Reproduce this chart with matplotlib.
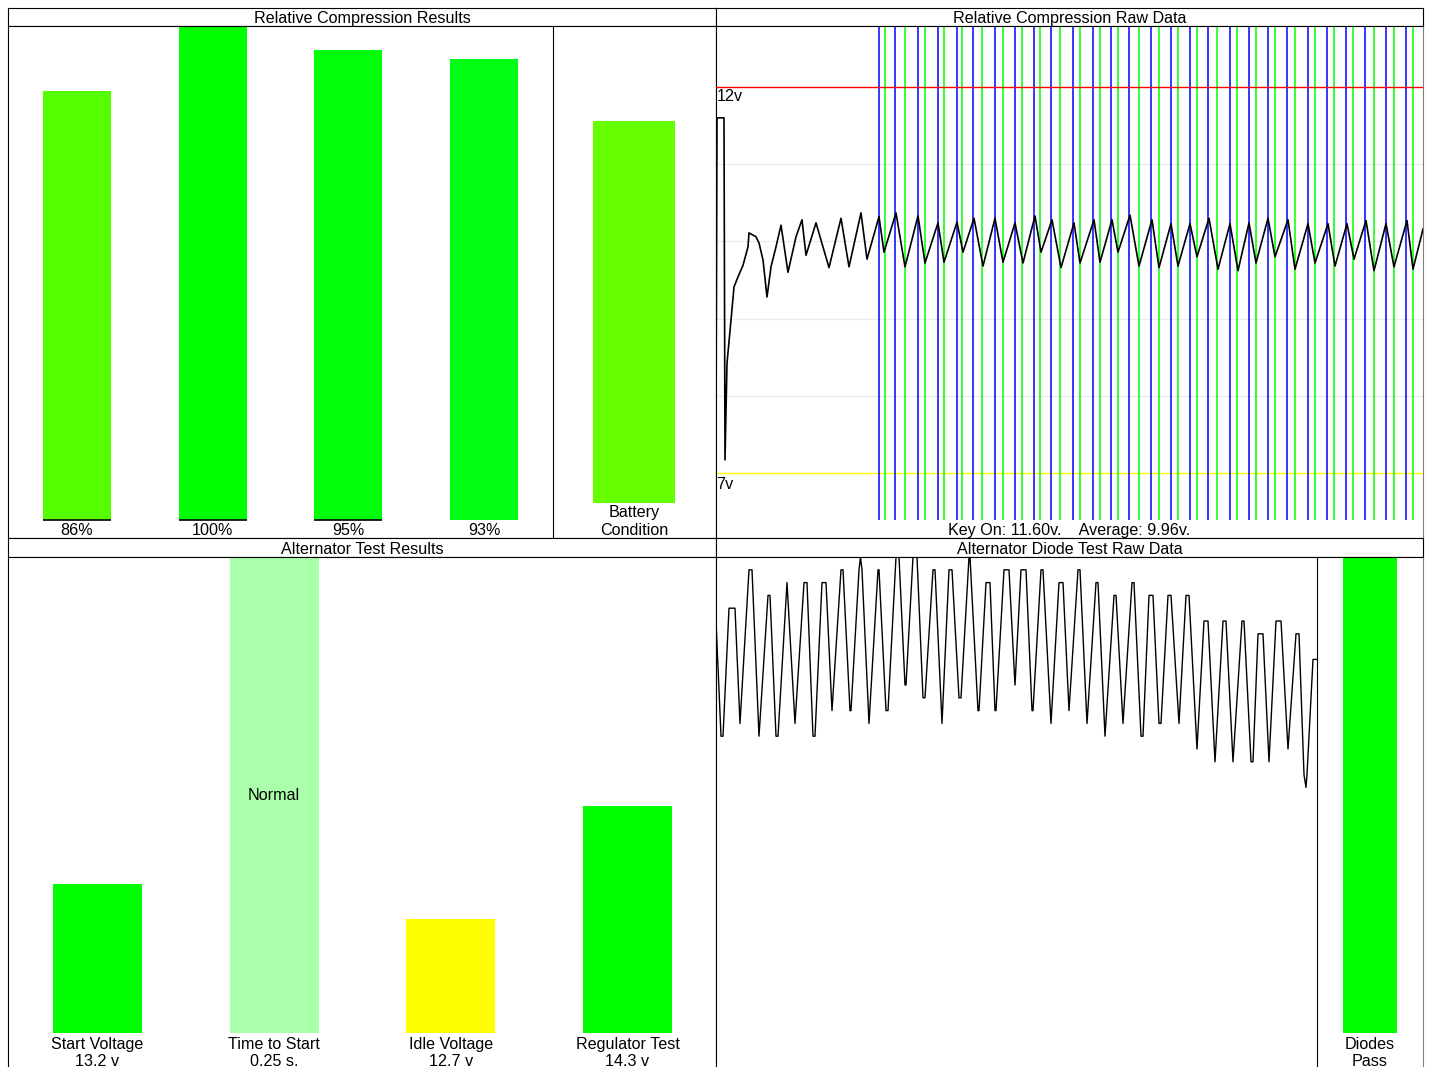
import numpy as np
import matplotlib.pyplot as plt

plt.rcParams['font.family'] = ['Liberation Sans', 'DejaVu Sans']
plt.rcParams['font.size'] = 11.6

W, H = 1429, 1067

# ===== Relative compression results =====
cyl_labels = ['86%', '100%', '95%', '93%']
cyl_values = [86, 100, 95, 93]
cyl_colors = ['#55ff00', '#00ff00', '#00ff08', '#00ff14']
battery_top = 79.4
battery_bottom = -4.13
battery_color = '#66ff00'

# ===== Relative compression raw data (sample, volts) =====
raw_x = [0, 1, 8, 9, 11, 15, 18, 22, 27, 32, 33, 40, 43, 47, 51, 55, 60, 65, 72, 80,
         86, 90, 100, 113, 125, 133, 145, 151, 163, 168, 180, 189, 202, 209, 222, 228,
         241, 247, 258, 267, 279, 287, 299, 307, 319, 325, 336, 345, 358, 364, 378, 384,
         396, 402, 414, 423, 436, 443, 455, 462, 474, 481, 493, 502, 514, 522, 533, 540,
         552, 559, 572, 579, 592, 599, 612, 619, 631, 638, 650, 658, 670, 678, 691, 697, 707]
raw_v = [7.62, 11.60, 11.60, 7.17, 8.42, 8.98, 9.41, 9.54, 9.69, 9.93, 10.11, 10.06, 9.98,
         9.76, 9.28, 9.67, 9.93, 10.21, 9.60, 10.06, 10.28, 9.82, 10.24, 9.66, 10.30, 9.67,
         10.37, 9.77, 10.32, 9.86, 10.37, 9.67, 10.33, 9.72, 10.24, 9.73, 10.25, 9.86, 10.30,
         9.68, 10.30, 9.73, 10.24, 9.72, 10.33, 9.86, 10.28, 9.66, 10.24, 9.72, 10.28, 9.73,
         10.28, 9.86, 10.34, 9.68, 10.28, 9.66, 10.23, 9.68, 10.23, 9.80, 10.30, 9.64, 10.23,
         9.62, 10.24, 9.72, 10.30, 9.80, 10.28, 9.64, 10.23, 9.72, 10.23, 9.68, 10.23, 9.77,
         10.27, 9.62, 10.23, 9.67, 10.27, 9.64, 10.16]
peak_marks = [163, 179, 202, 222, 241, 257, 279, 299, 318, 335, 357, 377, 395, 413,
              435, 455, 474, 492, 514, 533, 552, 571, 592, 611, 630, 649, 670, 690]
trough_marks = [169, 189, 209, 228, 246, 266, 287, 306, 324, 344, 364, 384, 402, 423,
                443, 462, 481, 501, 521, 540, 559, 579, 599, 618, 637, 658, 678, 697]
key_on_v = 11.60
avg_v = 9.96

# ===== Alternator test results =====
alt_names = ['Start Voltage', 'Time to Start', 'Idle Voltage', 'Regulator Test']
alt_readings = ['13.2 v', '0.25 s.', '12.7 v', '14.3 v']
alt_volts = [13.2, None, 12.7, 14.3]
alt_colors = ['#00ff00', '#aaffaa', '#ffff00', '#00ff00']

# ===== Alternator diode raw data (sample, level below top rail) =====
diode_x = [0, 5, 7, 13, 19, 24, 33, 36, 43, 52, 54, 60, 62, 71, 79, 88, 91, 97, 99, 106,
           110, 116, 125, 127, 134, 135, 143, 144.5, 146, 153, 162, 163, 170, 172, 180,
           183, 189, 190, 197, 201, 207, 209, 217, 219, 226, 233, 236, 243, 245, 253, 254,
           262, 263, 270, 274, 279, 280, 288, 293, 299, 305, 310, 316, 317, 325, 327, 335,
           343, 347, 353, 362, 364, 371, 380, 382, 389, 398, 400, 407, 416, 418, 425, 427,
           433, 437, 443, 445, 452, 455, 463, 470, 473, 481, 488, 492, 499, 507, 510, 517,
           526, 528, 535, 537, 542, 547, 553, 560, 565, 572, 580, 583, 588, 590, 591, 597, 601]
diode_lvl = [5, 14, 14, 4, 4, 13, 1, 1, 14, 3, 3, 14, 14, 2, 13, 2, 2, 14, 14, 2,
             2, 12, 1, 1, 12, 12, 1, 0, 1, 13, 1, 1, 12, 12, 0,
             0, 10, 10, 0, 0, 11, 11, 1, 1, 13, 1, 1, 11, 11, 0, 0,
             12, 12, 2, 2, 12, 12, 1, 1, 10, 1, 1, 12, 12, 1, 1, 13,
             2, 2, 12, 1, 1, 13, 2, 2, 14, 3, 3, 13, 2, 2, 14, 14,
             3, 3, 13, 13, 3, 3, 13, 3, 3, 15, 5, 5, 16, 5, 5, 16,
             5, 5, 16, 16, 6, 6, 16, 5, 5, 15, 6, 6, 17, 18, 17, 8, 8]
diodes_label = 'Diodes\nPass'


def rect(x0, y0, x1, y1):
    return [x0 / W, 1 - y1 / H, (x1 - x0) / W, (y1 - y0) / H]


def plain(ax, edge='black'):
    ax.set_xticks([])
    ax.set_yticks([])
    for s in ax.spines.values():
        s.set_color(edge)
        s.set_linewidth(0.8)


def band(x0, y0, x1, y1, title, edge='black'):
    ax = fig.add_axes(rect(x0, y0, x1, y1))
    plain(ax, edge)
    ax.text(0.5, 0.42, title, ha='center', va='center', transform=ax.transAxes)
    return ax


fig = plt.figure(figsize=(W / 100, H / 100), dpi=100)

# ---- top left ----
band(8, 8, 716, 26, 'Relative Compression Results')
ax = fig.add_axes(rect(8, 26, 716, 538))
plain(ax)
base = -7.85
ax.set_xlim(-0.5086, 4.710)
ax.set_ylim(-11.79, 100.2)
pos = np.arange(len(cyl_values))
ax.bar(pos, [v - base for v in cyl_values], bottom=base, width=0.501, color=cyl_colors)
for i in range(3):
    ax.hlines(base, i - 0.2505, i + 0.2505, color='black', lw=1.2, zorder=3)
for i, lab in enumerate(cyl_labels):
    ax.text(i, -10.2, lab, ha='center', va='center')
ax.axvline(3.509, color='black', lw=0.8)
ax.bar(4.106, battery_top - battery_bottom, bottom=battery_bottom, width=0.604,
       color=battery_color)
ax.text(4.106, -8.2, 'Battery\nCondition', ha='center', va='center')

# ---- top right ----
band(716, 8, 1423, 26, 'Relative Compression Raw Data')
ax = fig.add_axes(rect(716, 26, 1423, 538))
plain(ax)
ax.spines['right'].set_color('#808080')
ax.set_xlim(0, 707)
ax.set_ylim(6.158, 12.79)
for g in [8, 9, 10, 11]:
    ax.axhline(g, color='#ebebeb', lw=0.8, zorder=1)
ax.axhline(7, color='#ffff00', lw=1.0, zorder=1)
ax.vlines(peak_marks, 6.39, 12.79, color='#0000ff', lw=1.1, zorder=2)
ax.vlines(trough_marks, 6.39, 12.79, color='#00ff00', lw=1.1, zorder=2)
ax.axhline(12, color='#ff0000', lw=1.0, zorder=3)
ax.plot(raw_x, raw_v, color='black', lw=1.2, zorder=4)
ax.text(1, 11.97, '12v', ha='left', va='top')
ax.text(0, 6.95, '7v', ha='left', va='top')
ax.text(0.5, 0.014, f'Key On: {key_on_v:.2f}v.    Average: {avg_v:.2f}v.',
        ha='center', va='center', transform=ax.transAxes)

# ---- bottom left ----
band(8, 538, 716, 557, 'Alternator Test Results')
ax = fig.add_axes(rect(8, 557, 716, 1067))
plain(ax)
ax.spines['bottom'].set_visible(False)
vbase = 11.08
vtop = 17.83
ax.set_xlim(-0.5066, 3.501)
ax.set_ylim(10.598, vtop)
for i, v in enumerate(alt_volts):
    top = vtop if v is None else v
    ax.bar(i, top - vbase, bottom=vbase, width=0.504, color=alt_colors[i])
    ax.text(i, 10.80, alt_names[i] + '\n' + alt_readings[i], ha='center', va='center')
ax.text(1, (vbase + vtop) / 2, 'Normal', ha='center', va='center')

# ---- bottom right ----
band(716, 538, 1423, 557, 'Alternator Diode Test Raw Data')
ax = fig.add_axes(rect(716, 557, 1423, 1067))
plain(ax)
ax.spines['right'].set_color('#808080')
ax.spines['bottom'].set_visible(False)
ax.set_xlim(0, 707)
ax.set_ylim(39.84, 0)
ax.plot(diode_x, diode_lvl, color='black', lw=1.0)
ax.axvline(601, color='black', lw=0.8)
ax.bar(654, 37.19, bottom=0, width=54, color='#00ff00', align='center')
ax.text(654, 38.75, diodes_label, ha='center', va='center')

fig.savefig('out.png', dpi=100)
